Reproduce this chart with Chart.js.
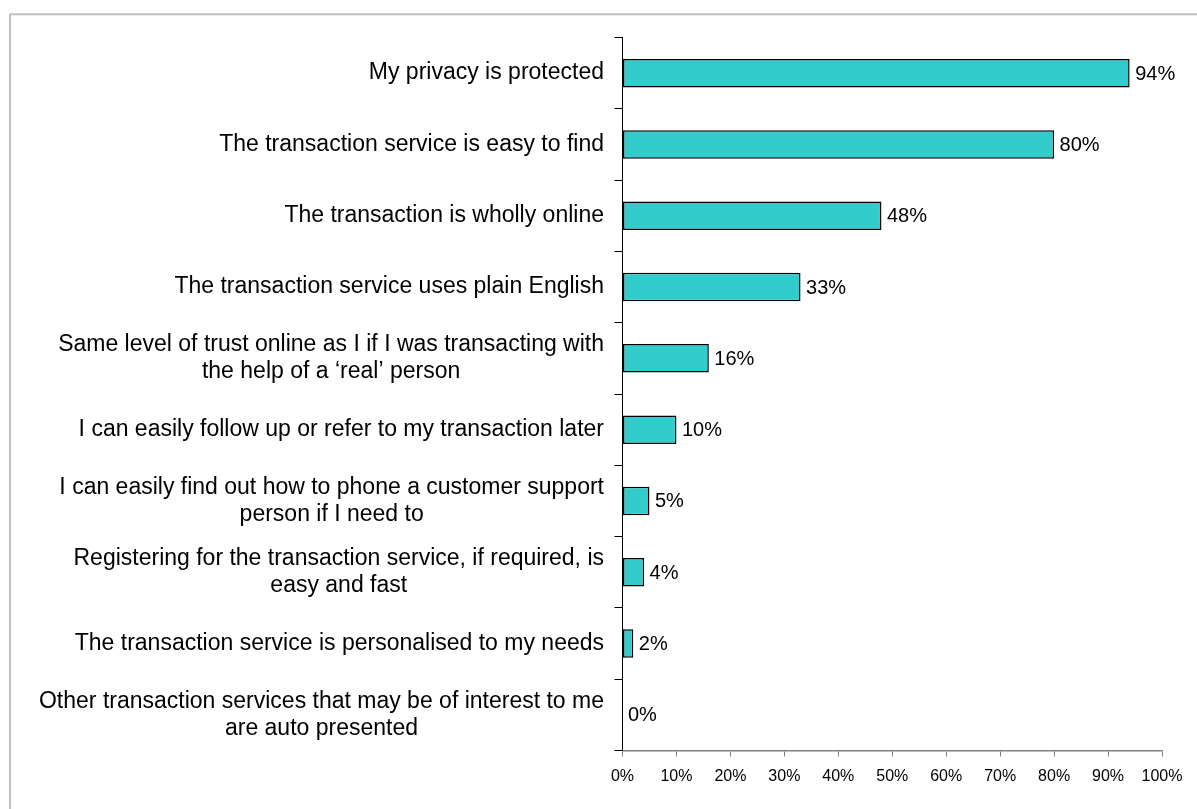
<!DOCTYPE html>
<html>
<head>
<meta charset="utf-8">
<style>
  html, body { margin: 0; padding: 0; background: #ffffff; overflow: hidden; }
  canvas { display: block; }
</style>
<script src="https://cdn.jsdelivr.net/npm/chart.js@4/dist/chart.umd.min.js"></script>
</head>
<body>
<canvas id="chart" width="1197" height="809"></canvas>
<script>
// Category labels (multi-line entries are wrapped as in the survey sheet)
const categories = [
  ['My privacy is protected'],
  ['The transaction service is easy to find'],
  ['The transaction is wholly online'],
  ['The transaction service uses plain English'],
  ['Same level of trust online as I if I was transacting with', 'the help of a \u2018real\u2019 person'],
  ['I can easily follow up or refer to my transaction later'],
  ['I can easily find out how to phone a customer support', 'person if I need to'],
  ['Registering for the transaction service, if required, is', 'easy and fast'],
  ['The transaction service is personalised to my needs'],
  ['Other transaction services that may be of interest to me', 'are auto presented']
];

// Share of respondents (%)
const values = [94, 80, 48, 33, 16, 10, 5, 4, 2, 0];

// Percentage axis ticks
const xTicks = [0, 10, 20, 30, 40, 50, 60, 70, 80, 90, 100];

const FONT = '"Liberation Sans", Arial, sans-serif';

// Light grey frame around the chart
const framePlugin = {
  id: 'frame',
  beforeDraw(chart) {
    const ctx = chart.ctx;
    ctx.save();
    ctx.strokeStyle = '#c0c0c0';
    ctx.lineWidth = 2;
    ctx.strokeRect(10, 14.3, 3000, 3000);
    ctx.restore();
  }
};

// Category labels: block right-aligned to the axis, lines centred within the block
const categoryLabelPlugin = {
  id: 'categoryLabels',
  afterDraw(chart) {
    const ctx = chart.ctx;
    const yScale = chart.scales.y;
    const rightEdge = 604;
    const lineH = 27;
    ctx.save();
    ctx.font = '23px ' + FONT;
    ctx.fillStyle = '#000000';
    ctx.textBaseline = 'middle';
    ctx.textAlign = 'center';
    categories.forEach((lines, i) => {
      const yc = yScale.getPixelForValue(i);
      const w = Math.max(...lines.map(l => ctx.measureText(l).width));
      const xc = rightEdge - w / 2;
      const y0 = yc - (lines.length - 1) * lineH / 2;
      lines.forEach((l, j) => ctx.fillText(l, xc, y0 + j * lineH));
    });
    ctx.restore();
  }
};

// Value labels just past the end of each bar
const valueLabelPlugin = {
  id: 'valueLabels',
  afterDatasetsDraw(chart) {
    const ctx = chart.ctx;
    const meta = chart.getDatasetMeta(0);
    ctx.save();
    ctx.font = '20px ' + FONT;
    ctx.fillStyle = '#000000';
    ctx.textBaseline = 'middle';
    ctx.textAlign = 'left';
    meta.data.forEach((bar, i) => {
      ctx.fillText(values[i] + '%', bar.x + 5.5, bar.y + 1);
    });
    ctx.restore();
  }
};

new Chart(document.getElementById('chart'), {
  type: 'bar',
  data: {
    labels: categories.map(l => l.join(' ')),
    datasets: [{
      data: values,
      backgroundColor: '#33cccc',
      borderColor: '#000000',
      borderWidth: 1.5,
      borderSkipped: false,
      barPercentage: 0.4,
      categoryPercentage: 1.0
    }]
  },
  options: {
    indexAxis: 'y',
    responsive: false,
    animation: false,
    events: [],
    layout: { padding: { top: 37.5, right: 35, bottom: 0, left: 0 } },
    plugins: {
      legend: { display: false },
      tooltip: { enabled: false },
      title: { display: false }
    },
    scales: {
      x: {
        min: 0,
        max: 100,
        afterBuildTicks(scale) {
          scale.ticks = xTicks.map(v => ({ value: v }));
        },
        afterFit(scale) { scale.height = 58.5; },
        ticks: {
          autoSkip: false,
          maxRotation: 0,
          padding: 10,
          color: '#000000',
          font: { family: FONT, size: 16 },
          callback: v => v + '%'
        },
        grid: {
          drawOnChartArea: false,
          drawTicks: true,
          tickLength: 6,
          color: '#808080',
          lineWidth: 1
        },
        border: { display: true, color: '#808080', width: 1.5 }
      },
      y: {
        afterFit(scale) { scale.width = 622.5; },
        ticks: { display: false },
        grid: {
          offset: true,
          drawOnChartArea: false,
          drawTicks: true,
          tickLength: 8,
          color: '#000000',
          lineWidth: 1
        },
        border: { display: true, color: '#000000', width: 1 }
      }
    }
  },
  plugins: [framePlugin, categoryLabelPlugin, valueLabelPlugin]
});
</script>
</body>
</html>
